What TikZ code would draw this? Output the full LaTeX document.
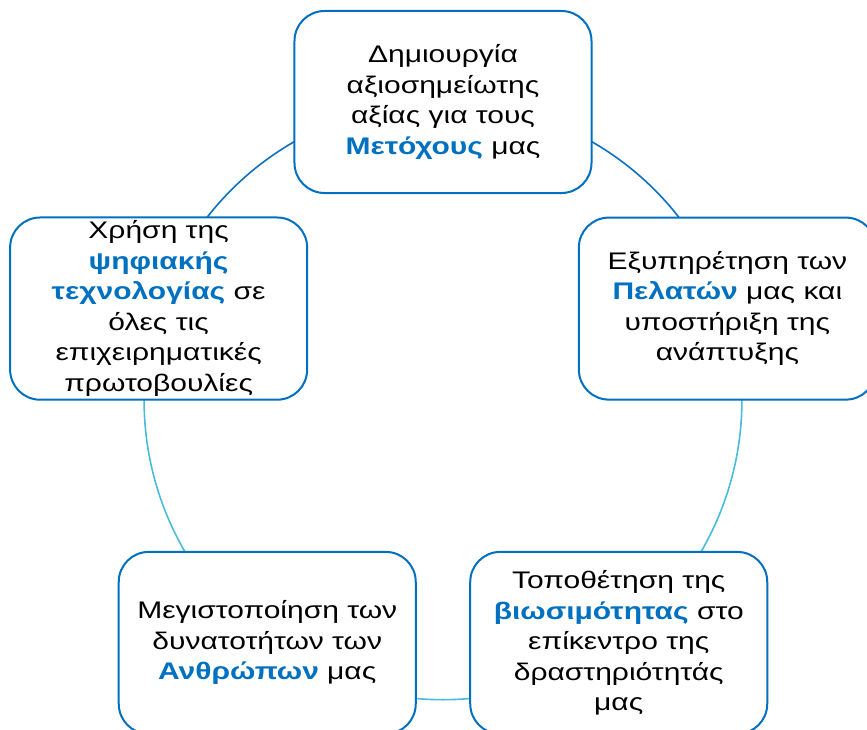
\documentclass[tikz,border=0pt]{standalone}
\usepackage{fontspec}
\setmainfont[FakeStretch=1.25]{Liberation Sans}
\usepackage{tikz}
\usetikzlibrary{backgrounds}
\definecolor{boxblue}{HTML}{0070C0}
\definecolor{arcblue}{HTML}{0A72C2}
\definecolor{arccyan}{HTML}{48BCDA}
\newcommand{\keyword}[1]{\textcolor{boxblue}{\textbf{#1}}}

\begin{document}
\begin{tikzpicture}[x=1pt, y=1pt, line width=2pt]
   \useasboundingbox (-443,-328) rectangle (424,401);
   \begin{scope}[every node/.style={rectangle, rounded corners=30pt, draw=boxblue, fill=white, minimum width=297pt, minimum height=182pt, align=center, font=\fontsize{24}{30.5}\selectfont}]
    \node (n1) at (90:299pt) {Δημιουργία\\αξιοσημείωτης\\αξίας για τους\\\keyword{Μετόχους} μας};
    \node (n2) at (18:299pt) {Εξυπηρέτηση των\\\keyword{Πελατών} μας και\\υποστήριξη της\\ανάπτυξης};
    \node (n3) at (-54:299pt) {Τοποθέτηση της\\\keyword{βιωσιμότητας} στο\\επίκεντρο της\\δραστηριότητάς\\μας};
    \node (n4) at (-126:299pt) {Μεγιστοποίηση των\\δυνατοτήτων των\\\keyword{Ανθρώπων} μας};
    \node (n5) at (162:299pt) {Χρήση της\\\keyword{ψηφιακής}\\\keyword{τεχνολογίας} σε\\όλες τις\\επιχειρηματικές\\πρωτοβουλίες};
   \end{scope}
   \begin{scope}[on background layer, every edge/.style={draw, line width=1.6pt, bend left=36, looseness=0.94}]
    \draw (n1.center) edge [arcblue] (n2.center);
    \draw (n2.center) edge [arccyan] (n3.center);
    \draw (n3.center) edge [arccyan] (n4.center);
    \draw (n4.center) edge [arccyan] (n5.center);
    \draw (n5.center) edge [arcblue] (n1.center);
   \end{scope}
\end{tikzpicture}
\end{document}
